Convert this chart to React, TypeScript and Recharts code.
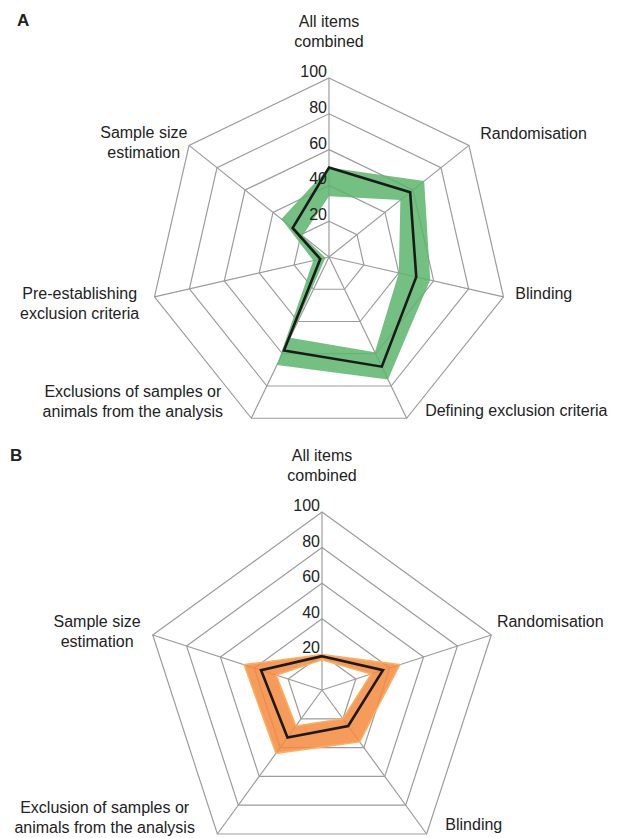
import React from "react";
import { RadarChart, Radar, PolarGrid, PolarAngleAxis, PolarRadiusAxis } from "recharts";

// Panel A: seven reporting items (% of studies)
const itemsA = [
  "All items\ncombined",
  "Randomisation",
  "Blinding",
  "Defining exclusion criteria",
  "Exclusions of samples or\nanimals from the analysis",
  "Pre-establishing\nexclusion criteria",
  "Sample size\nestimation",
];
const meanA = [50, 58, 50, 68, 58, 5, 26];
const lowA = [34, 51, 40, 59, 50, 2, 19];
const highA = [50, 68, 58, 76, 67, 9, 34];

// Panel B: five reporting items (% of studies)
const itemsB = [
  "All items\ncombined",
  "Randomisation",
  "Blinding",
  "Exclusion of samples or\nanimals from the analysis",
  "Sample size\nestimation",
];
const meanB = [19, 36, 25, 33, 36];
const lowB = [17, 29, 20, 25, 27];
const highB = [20, 46, 36, 44, 46];

const radiusTicks = [0, 20, 40, 60, 80, 100];

const FONT = "'Liberation Sans', Arial, sans-serif";

// label placement relative to the tick point: [anchor, dx, dy]
const layoutA: [string, number, number][] = [
  ["middle", 0, -43],
  ["start", 5, -1],
  ["start", 4, 0],
  ["start", 15, -9],
  ["middle", -115, -28],
  ["middle", -67, 0],
  ["middle", -39, -2],
];
const layoutB: [string, number, number][] = [
  ["middle", 0, -43],
  ["start", -2, -6],
  ["start", 14, -10],
  ["middle", -108, -27],
  ["middle", -48, -6],
];

const toRows = (items: string[], mean: number[], low: number[], high: number[]) =>
  items.map((item, i) => ({ item, mean: mean[i], range: [low[i], high[i]] }));

const makeAngleTick = (layout: [string, number, number][]) => (props: any) => {
  const { x, y, payload, index } = props;
  const [anchor, dx, dy] = layout[index] || ["middle", 0, 0];
  const lines = String(payload.value).split("\n");
  return (
    <text x={x + dx} y={y + dy} textAnchor={anchor} fontSize={16} fontFamily={FONT} fill="#222">
      {lines.map((l, i) => (
        <tspan key={i} x={x + dx} dy={i === 0 ? 0 : 20}>
          {l}
        </tspan>
      ))}
    </text>
  );
};

const RadiusTick = (props: any) => {
  const { x, y, payload } = props;
  if (payload.value === 0) return null;
  return (
    <text x={x - 2} y={y - 1} textAnchor="end" fontSize={16} fontFamily={FONT} fill="#222">
      {payload.value}
    </text>
  );
};

function Panel({ rows, layout, cx, cy, r, bandFill, bandStroke, height }: any) {
  return (
    <RadarChart width={617} height={height} data={rows} cx={cx} cy={cy} outerRadius={r} margin={{ top: 0, right: 0, bottom: 0, left: 0 }}>
      <PolarGrid gridType="polygon" stroke="#9c9c9c" strokeWidth={1.2} />
      <PolarAngleAxis dataKey="item" tick={makeAngleTick(layout)} tickLine={false} axisLine={false} />
      <PolarRadiusAxis
        angle={90}
        domain={[0, 100]}
        ticks={radiusTicks}
        tick={<RadiusTick />}
        axisLine={false}
        tickLine={false}
      />
      <Radar dataKey="range" fill={bandFill} fillOpacity={0.85} stroke={bandStroke} strokeWidth={bandStroke === "none" ? 0 : 1.5} isAnimationActive={false} />
      <Radar dataKey="mean" fill="none" fillOpacity={0} stroke="#1a1a1a" strokeWidth={2.6} isAnimationActive={false} />
    </RadarChart>
  );
}

export default function App() {
  const rowsA = toRows(itemsA, meanA, lowA, highA);
  const rowsB = toRows(itemsB, meanB, lowB, highB);
  return (
    <div style={{ position: "absolute", left: 0, top: 0, width: 617, height: 838, background: "#fff", fontFamily: FONT }}>
      <div style={{ position: "absolute", left: 0, top: 0 }}>
        <Panel rows={rowsA} layout={layoutA} cx={329} cy={257} r={179} bandFill="#5cb46c" bandStroke="none" height={430} />
      </div>
      <div style={{ position: "absolute", left: 0, top: 430 }}>
        <Panel rows={rowsB} layout={layoutB} cx={322} cy={260} r={178} bandFill="#f48a3c" bandStroke="#f8b062" height={408} />
      </div>
      <div style={{ position: "absolute", left: 17, top: 11, fontSize: 17, fontWeight: "bold", color: "#222" }}>A</div>
      <div style={{ position: "absolute", left: 10, top: 446, fontSize: 17, fontWeight: "bold", color: "#222" }}>B</div>
    </div>
  );
}
